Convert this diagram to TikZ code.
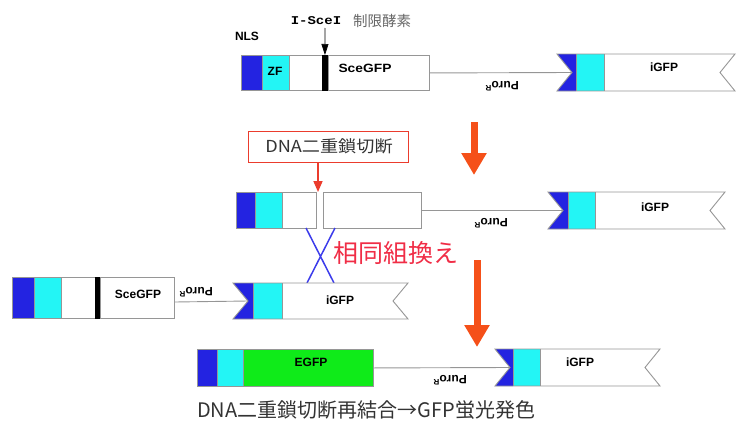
\documentclass[tikz,border=0pt]{standalone}
\usepackage{fontspec}
\setmainfont{Liberation Sans}
\newfontfamily\jp{Noto Sans CJK JP}
\newfontfamily\monob{Liberation Mono}
\usetikzlibrary{arrows.meta}
\definecolor{nls}{RGB}{35,35,225}
\definecolor{zf}{RGB}{35,245,245}
\definecolor{egfp}{RGB}{15,235,25}
\definecolor{outl}{RGB}{150,150,150}
\definecolor{arr}{RGB}{245,80,25}
\definecolor{hr}{RGB}{240,45,70}
\definecolor{xblue}{RGB}{60,60,235}
\definecolor{cut}{RGB}{235,60,45}
\tikzset{
  seg/.style={draw=outl, line width=0.9pt, inner sep=0pt, anchor=north west},
  lbl/.style={font=\bfseries\fontsize{12}{14}\selectfont, inner sep=0pt},
  puro/.style={font=\bfseries\fontsize{12}{14}\selectfont, inner sep=0pt, rotate=180},
  wire/.style={draw=outl, line width=0.9pt},
  bigarrow/.style={draw=arr, line width=7pt, -{Triangle[width=24pt,length=22pt]}},
}
% notched block: #1 name, #2 x0, #3 blue end, #4 cyan end, #5 x1, #6 y0, #7 y1
\newcommand\notchblock[7]{%
  \pgfmathsetmacro\ym{(#6+#7)/2}%
  \fill[nls] (#2,#6) -- (#3,#6) -- (#3,#7) -- (#2,#7) -- ({#2+15},\ym) -- cycle;
  \fill[zf] (#3,#6) rectangle (#4,#7);
  \fill[white] (#4,#6) -- (#5,#6) -- ({#5-15},\ym) -- (#5,#7) -- (#4,#7) -- cycle;
  \draw[outl, line width=0.9pt, line join=miter] (#2,#6) -- (#5,#6) -- ({#5-15},\ym) -- (#5,#7) -- (#2,#7) -- ({#2+15},\ym) -- cycle;
  \draw[outl, line width=0.9pt] (#3,#6) -- (#3,#7) (#4,#6) -- (#4,#7);
  \coordinate (#1) at ({#2+15},\ym);
}
\begin{document}
\begin{tikzpicture}[x=1pt,y=-1pt]
\useasboundingbox (0,0) rectangle (737,423);

% ---------- Row 1 ----------
\node[seg, fill=nls, minimum width=21pt, minimum height=35pt] (r1nls) at (241,55) {};
\node[seg, fill=zf, minimum width=27pt, minimum height=35pt] (r1zf) at (262,55) {};
\node[seg, fill=white, minimum width=33pt, minimum height=35pt] (r1w) at (289,55) {};
\node[seg, fill=black, draw=black, minimum width=5pt, minimum height=35pt] (r1bar) at (322,55) {};
\node[seg, fill=white, minimum width=101pt, minimum height=35pt] (r1sce) at (328,55) {};
\node[lbl] at (275,71) {ZF};
\node[lbl] at (365,68) {\scalebox{1.15}[1]{SceGFP}};
\node[lbl] at (247,36) {NLS};
\node[inner sep=0pt, font=\monob\bfseries\fontsize{14}{15}\selectfont] (isce) at (316,21) {\scalebox{1}[0.85]{I-SceI}};
\node[inner sep=0pt, font=\jp\fontsize{14.5}{16}\selectfont, text=black!60] at (382,21) {制限酵素};
\coordinate (isceTop) at (325,28);
\draw[line width=0.7pt, -{Triangle[width=7pt,length=11pt]}] (isceTop) -- (r1bar.north);
\notchblock{r1in}{557}{576}{604}{735}{54}{91}
\draw[wire] (r1sce.east) -- (r1in);
\node[lbl] at (664,67) {iGFP};
\node[puro] at (502,86) {Puro\textsuperscript{R}};

% arrow 1
\coordinate (a1s) at (474,122);
\coordinate (a1e) at (474,175);
\draw[bigarrow] (a1s) -- (a1e);

% ---------- Row 2 ----------
\node[draw=cut, line width=1.2pt, minimum width=160pt, minimum height=31pt, inner sep=0pt, anchor=north west] (cutbox) at (248,131) {};
\node[inner sep=0pt, font=\jp\fontsize{16.5}{18}\selectfont, text=black!80] at (329,146.5) {\scalebox{1.1}[1]{DNA二重鎖切断}};
\coordinate (cutpt) at (318,192);
\draw[draw=cut, line width=1.6pt, -{Triangle[width=9pt,length=11pt]}] (cutbox.south -| cutpt) -- (cutpt);

\node[seg, fill=nls, minimum width=19pt, minimum height=36pt] (r2nls) at (236,192) {};
\node[seg, fill=zf, minimum width=27pt, minimum height=36pt] (r2zf) at (255,192) {};
\node[seg, fill=white, minimum width=34pt, minimum height=36pt] (r2w) at (282,192) {};
\node[seg, fill=white, minimum width=98pt, minimum height=36pt] (r2r) at (323,192) {};
\notchblock{r2in}{548}{568}{595}{725}{192}{229}
\draw[wire] (r2r.east) -- (r2in);
\node[lbl] at (655,207) {iGFP};
\node[puro] at (491,223) {Puro\textsuperscript{R}};

% homologous recombination cross
\coordinate (x1) at (306,228);
\coordinate (x2) at (335,228);
\coordinate (x3) at (307,283);
\coordinate (x4) at (334,283);
\draw[xblue, line width=1.5pt] (x1) -- (x4) (x2) -- (x3);
\node[inner sep=0pt, font=\jp\fontsize{25}{28}\selectfont, text=hr, anchor=west] at (333,253) {相同組換え};

% arrow 2
\coordinate (a2s) at (477,260);
\coordinate (a2e) at (477,347);
\draw[bigarrow] (a2s) -- (a2e);

% ---------- Row 3 ----------
\node[seg, fill=nls, minimum width=22pt, minimum height=41pt] (r3nls) at (12,277) {};
\node[seg, fill=zf, minimum width=27pt, minimum height=41pt] (r3zf) at (34,277) {};
\node[seg, fill=white, minimum width=34pt, minimum height=41pt] (r3w) at (61,277) {};
\node[seg, fill=black, draw=black, minimum width=5pt, minimum height=41pt] (r3bar) at (95,277) {};
\node[seg, fill=white, minimum width=74pt, minimum height=41pt] (r3sce) at (100,277) {};
\node[lbl] at (138,294) {SceGFP};
\notchblock{r3in}{233}{253}{282}{408}{283}{319}
\draw[wire] (r3sce.east |- 0,302) -- (r3in);
\node[lbl] at (340,300) {iGFP};
\node[puro] at (196,292) {Puro\textsuperscript{R}};

% ---------- Row 4 ----------
\node[seg, fill=nls, minimum width=20pt, minimum height=37pt] (r4nls) at (197,349) {};
\node[seg, fill=zf, minimum width=26pt, minimum height=37pt] (r4zf) at (217,349) {};
\node[seg, fill=egfp, minimum width=130pt, minimum height=37pt] (r4egfp) at (243,349) {};
\node[lbl] at (311,362) {EGFP};
\notchblock{r4in}{495}{513}{540}{660}{349}{386}
\draw[wire] (r4egfp.east) -- (r4in);
\node[lbl] at (580,362) {iGFP};
\node[puro] at (450,380) {Puro\textsuperscript{R}};

\node[inner sep=0pt, font=\jp\fontsize{20}{22}\selectfont, text=black!80, anchor=west] at (197,410) {DNA二重鎖切断再結合→GFP蛍光発色};
\end{tikzpicture}
\end{document}
